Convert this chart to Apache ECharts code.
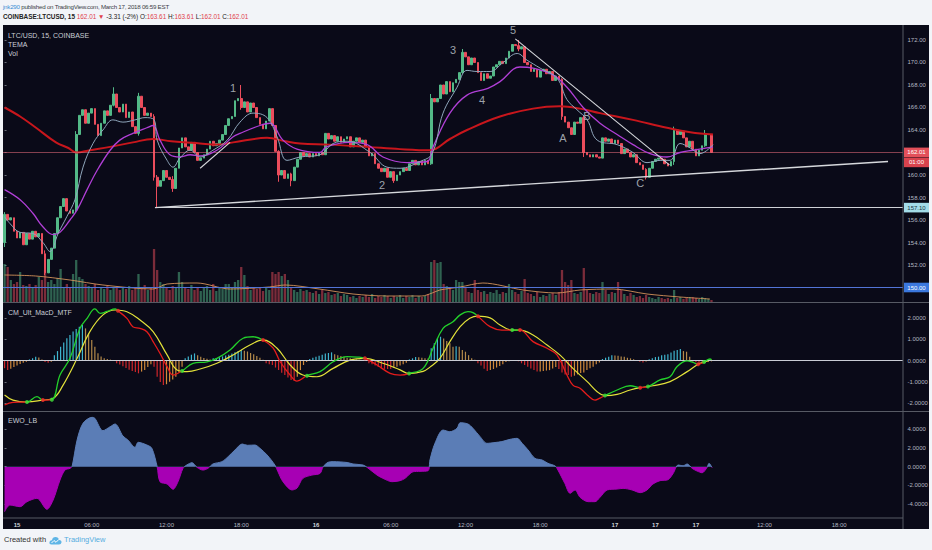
<!DOCTYPE html>
<html><head><meta charset="utf-8">
<script src="https://cdn.jsdelivr.net/npm/echarts@6/dist/echarts.min.js"></script>
<style>
html,body{margin:0;padding:0;background:#f2f4f8;width:932px;height:550px;overflow:hidden;font-family:'Liberation Sans',Arial,sans-serif;}
#h1{position:absolute;left:3px;top:2px;font-size:6.2px;letter-spacing:-0.25px;line-height:9px;color:#3c3f47;white-space:nowrap;}
#h2{position:absolute;left:3px;top:12px;font-size:6.4px;line-height:9px;color:#222;white-space:nowrap;}
#h2 .r{color:#e0414c;}
#dark{position:absolute;left:3px;top:25px;width:926px;height:504px;background:#0a0a18;}
#chart{position:absolute;left:0;top:0;width:932px;height:550px;}
#foot{position:absolute;left:4px;top:535px;font-size:7.5px;line-height:10px;color:#333;white-space:nowrap;}
#foot .tv{color:#55ade0;}
#foot svg{vertical-align:middle;margin:0 2px 0 3px;}
</style></head><body>
<div id="h1"><span style="color:#3b8ed6">jnk290</span> published on TradingView.com, March 17, 2018 06:59 EST</div>
<div id="h2"><b>COINBASE:LTCUSD, 15</b> <span class="r">162.01</span> <span class="r">&#9660;</span> -3.31 (-2%) O:<span class="r">163.61</span> H:<span class="r">163.61</span> L:<span class="r">162.01</span> C:<span class="r">162.01</span></div>
<div id="dark"></div>
<div id="chart"></div>
<div id="foot">Created with<svg width="13" height="9" viewBox="0 0 13 9"><path d="M2.5 8.5 Q0 8.5 0.5 6 Q1 4 3 4.3 Q3.5 1 6.5 1 Q9.5 1 10 4 Q12.8 4.2 12.5 6.5 Q12.2 8.5 10 8.5 Z" fill="#5fb5e6"/><path d="M2.5 7 L5 4.5 L7 6.3 L10 3.3" stroke="#fff" stroke-width="1" fill="none"/></svg><span class="tv">TradingView</span></div>
<script>
// ---------- data ----------
const N = 289;               // bar slots across the time axis (data + empty future)
const firstOpen = 154.0;
const closes = [
156.5,156.0,156.2,155.0,154.4,154.9,153.8,154.8,154.3,155.0,
154.5,154.8,153.0,151.3,152.5,153.5,154.8,156.2,157.2,157.9,
156.8,156.6,156.9,163.6,165.3,165.8,164.6,165.5,165.9,164.5,
163.5,164.6,165.7,165.3,166.2,167.2,166.0,165.6,166.3,165.1,
165.6,164.3,163.7,167.0,166.0,165.3,165.5,165.2,159.8,159.0,
159.5,160.4,159.8,159.6,158.8,160.6,162.4,163.3,162.5,162.2,
162.9,162.0,161.3,161.5,161.8,162.3,163.0,162.6,162.8,163.1,
163.6,164.4,165.0,165.2,166.6,166.8,166.0,166.5,165.6,166.4,
166.0,165.1,164.5,164.1,164.8,165.9,164.4,162.1,160.0,160.4,
159.7,160.1,159.5,160.7,161.4,162.0,161.7,161.9,161.6,161.9,
161.7,162.0,161.8,163.7,163.2,163.5,163.0,163.4,162.9,163.2,
163.4,162.5,163.0,163.3,162.9,163.1,162.5,161.7,161.9,161.0,
160.6,160.3,160.6,159.8,160.3,159.5,160.0,160.3,160.6,160.4,
161.0,161.3,160.9,161.2,160.9,161.3,161.0,166.8,166.5,166.8,
168.0,167.2,168.3,167.4,168.2,168.5,169.1,170.9,170.5,169.8,
170.4,170.0,169.1,168.4,169.0,168.6,168.8,169.6,169.8,170.1,
169.9,170.4,171.0,171.6,171.5,171.2,171.4,170.0,169.8,169.2,
169.4,168.7,169.3,169.4,169.0,169.2,168.4,168.8,168.5,165.2,
164.7,164.2,163.6,164.7,164.6,165.1,162.0,161.8,161.6,161.8,
161.6,161.5,163.3,163.0,163.2,162.8,163.1,162.8,161.9,162.3,
162.0,161.6,161.8,161.1,160.9,160.5,159.8,160.6,161.2,161.4,
161.5,161.4,161.0,160.8,161.2,164.0,163.6,163.9,163.3,162.5,
163.0,162.3,161.7,162.2,162.6,163.6,163.61,162.01];
// notable wicks: index -> [high, low]
const wicks = {0:[156.7,153.6],13:[153.3,151.1],23:[163.9,156.7],35:[167.8,166.1],43:[167.3,163.5],
  48:[165.4,159.5],49:[160.0,157.1],54:[159.9,158.5],76:[168.0,165.8],88:[162.2,159.4],92:[160.2,159.0],
  125:[160.3,159.3],137:[167.2,160.9],147:[171.2,169.0],165:[172.0,171.0],179:[168.6,164.9],
  186:[165.3,161.6],206:[160.6,159.6],215:[164.3,160.9],225:[164.0,162.5]};
const volumes = [
38,35,22,18,20,30,17,16,18,15, 17,25,22,32,20,22,18,24,33,15,
18,14,28,42,25,23,18,16,14,18, 12,15,13,16,12,14,15,12,14,13,
16,12,14,28,15,17,12,14,53,32, 20,18,15,12,16,14,30,20,15,13,
17,12,15,11,14,16,12,18,11,14, 13,18,18,15,20,22,35,27,16,12,
14,13,15,11,14,12,30,28,30,26, 28,22,15,12,10,13,11,12,10,9,
11,8,12,9,10,7,8,9,6,8, 7,5,6,4,6,5,7,5,8,4,
6,5,7,6,4,6,5,7,4,6, 5,7,4,6,5,6,8,40,42,39,
40,18,16,14,12,22,20,20,14,10, 9,22,12,10,11,8,10,9,12,8,
10,9,18,12,10,8,11,23,9,8, 6,10,5,7,6,8,9,7,10,32,
20,17,22,9,8,10,34,12,9,8, 10,9,20,12,8,10,9,20,12,8,
6,9,7,5,6,4,7,5,4,3, 5,4,3,4,3,12,4,5,3,4,
5,5,4,3,5,4,3,2];
const volMA = [[0,27],[10,26],[21,22],[31.6,17],[47.7,13],[52.2,18],[61.8,19],[72.4,13],[85,15],[90.1,17],
  [101,13],[111.9,8],[122.8,6],[134,6],[137.3,9],[139.8,12],[146.3,15],[153.6,19],[166.5,12],[177.4,9],
  [184.8,12],[195.4,13],[206.3,8],[216.9,5],[226.5,3]];
const maLong = [[0,166.0],[5,165.2],[10.1,164.2],[16.5,162.9],[20.5,162.4],[23.1,162.0],[27.4,162.2],[33.9,162.5],
  [41.2,162.9],[47.7,163.2],[53.5,163.0],[62.8,162.8],[68,162.7],[73.4,162.9],[84.3,163.3],[90.1,163.0],
  [94.9,162.8],[104.5,162.7],[116.4,162.5],[127.0,162.3],[136.6,162.2],[143.0,163.2],[148.5,164.0],
  [159.1,165.2],[169.7,165.9],[178.3,166.1],[184.8,165.9],[191.2,165.5],[201.8,164.9],[212.7,164.2],
  [220.2,163.8],[227.5,163.6]];
const temaSlow = [[0,158.7],[5.0,157.8],[9.1,156.6],[12.3,155.4],[15.6,154.7],[17.8,154.9],[21.0,156.0],
  [23.3,156.9],[26.5,158.7],[29.7,160.4],[33.9,162.2],[37.0,163.1],[41.2,163.7],[45.7,164.2],[47.7,164.4],
  [49.9,163.1],[53.1,161.8],[56.3,161.6],[59.6,161.8],[62.8,161.7],[68.2,162.2],[73.4,163.4],[75.6,163.7],
  [82.0,164.4],[85.2,164.6],[89.4,163.1],[93.9,162.3],[101.3,162.0],[103.3,162.5],[110.9,162.9],[116.4,162.7],
  [121.5,161.6],[129.2,161.1],[135.7,161.2],[137.6,162.5],[143.0,165.5],[148.5,167.1],[155.2,167.7],
  [159.1,168.3],[165.5,169.6],[169.7,169.5],[176.1,168.9],[180.6,167.8],[185.8,166.0],[191.2,164.6],
  [196.7,163.6],[201.8,162.7],[207.3,161.9],[212.7,161.6],[216.9,162.0],[221.1,162.2],[227.5,162.5]];
const temaFast = [[0,156.3],[1.7,155.7],[5.0,154.9],[9.1,154.8],[12.3,154.0],[14.6,153.2],[17.2,154.8],
  [20.0,156.3],[22.6,157.8],[25.2,160.7],[28.4,162.8],[31.6,164.0],[34.8,164.9],[38.0,164.7],[41.9,164.9],
  [45.1,165.1],[48.0,164.9],[49.0,163.1],[52.2,161.3],[54.1,160.7],[56.3,161.5],[59.6,162.2],[62.8,161.6],
  [66.9,162.2],[71.5,163.1],[75.6,164.7],[79.8,165.5],[84.3,165.1],[87.5,163.4],[90.7,161.3],[94.9,161.6],
  [101.3,161.8],[105.5,162.8],[110.0,163.0],[117.4,162.0],[122.8,160.7],[127.0,160.6],[133.4,161.2],
  [137.3,161.9],[140.8,165.5],[145.3,167.8],[148.5,169.3],[151.7,169.2],[155.9,169.2],[160.1,170.0],
  [164.6,170.8],[167.8,170.2],[172.0,169.5],[177.4,168.6],[180.6,166.7],[183.8,165.8],[187.1,164.9],
  [190.3,163.1],[196.7,162.7],[201.8,162.0],[206.3,161.1],[210.5,161.3],[213.7,161.3],[216.9,162.8],
  [220.2,162.4],[223.3,161.9],[227.5,162.7]];
const supportLine = [[48.3,157.1],[283.7,161.2]];
const downLine = [[164.0,172.1],[213.5,160.9]];
const smallLine = [[62.8,160.6],[72.4,162.9]];
const waveLabels = [['1',73.4,167.7],['2',121.2,159.1],['3',144.0,171.1],['4',153.3,166.7],
  ['5',163.3,172.9],['A',179.3,163.3],['B',187.0,165.2],['C',204.1,159.3]];
const lastPrice = 162.01, hLevel = 157.10, blueLevel = 150.00;

const macdHist = [
-0.35,-0.44,-0.38,-0.30,-0.22,-0.15,-0.10,-0.05,0.06,0.12,
0.19,0.15,0.06,-0.06,-0.10,-0.05,0.26,0.45,0.65,0.85,
1.05,1.20,1.36,1.48,1.59,1.67,1.51,1.28,0.97,0.65,
0.35,0.20,0.12,0.08,0.05,0.03,-0.12,-0.18,-0.26,-0.34,
-0.42,-0.48,-0.53,-0.59,-0.51,-0.44,-0.30,-0.16,-0.28,-0.75,
-1.00,-1.14,-1.10,-0.98,-0.88,-0.75,-0.55,-0.28,0.12,0.20,
0.28,0.34,0.25,0.18,0.13,0.09,0.06,0.11,0.13,0.16,
0.20,0.24,0.28,0.34,0.40,0.45,0.50,0.47,0.43,0.36,
0.30,0.22,0.14,0.05,-0.12,-0.16,-0.20,-0.32,-0.44,-0.56,
-0.67,-0.78,-0.90,-0.95,-0.75,-0.44,-0.20,-0.06,0.08,0.14,
0.18,0.23,0.28,0.34,0.36,0.39,0.30,0.26,0.22,0.18,
0.14,0.11,0.08,0.06,0.04,0.03,0.02,-0.12,-0.17,-0.23,
-0.29,-0.36,-0.38,-0.39,-0.39,-0.33,-0.28,-0.23,-0.16,-0.10,
0.06,0.11,0.17,0.16,0.14,0.12,0.10,0.58,0.81,1.04,
1.12,1.04,0.92,0.81,0.65,0.68,0.65,0.50,0.42,0.26,
0.11,0.04,-0.12,-0.22,-0.38,-0.48,-0.44,-0.39,-0.32,-0.25,
-0.17,-0.06,-0.02,0.02,0.01,-0.02,-0.12,-0.20,-0.28,-0.36,
-0.44,-0.51,-0.50,-0.48,-0.46,-0.44,-0.36,-0.30,-0.39,-0.55,
-0.64,-0.67,-0.75,-0.70,-0.64,-0.58,-0.55,-0.44,-0.35,-0.28,
-0.17,-0.08,0.08,0.14,0.19,0.26,0.24,0.23,0.20,0.19,
0.14,0.11,0.07,0.03,-0.05,-0.08,-0.04,0.07,0.11,0.17,
0.19,0.26,0.28,0.30,0.38,0.46,0.50,0.55,0.45,0.42,
0.19,-0.05,-0.07,-0.09,-0.12,-0.10,-0.05,-0.03];
const macdLine = [[0,-2.07],[2.7,-1.95],[7.2,-1.93],[10.4,-1.68],[12.3,-1.84],[15.2,-1.82],[17.8,-0.67],[21.0,0.11],
  [24.2,1.51],[26.5,1.98],[29.0,2.42],[30.7,2.21],[32.9,2.30],[35.5,2.42],[36.4,2.33],[39.3,1.98],[41.2,1.59],
  [43.5,1.51],[45.7,1.35],[47.7,0.89],[49.9,0.35],[52.2,-0.28],[54.1,-0.67],[57.0,-0.48],[60.5,-0.12],
  [65.0,-0.05],[68.2,0.11],[72.4,0.50],[76.6,1.05],[79.8,1.12],[83.0,0.97],[86.2,0.60],[88.5,-0.05],
  [91.7,-0.67],[93.9,-0.95],[97.1,-0.70],[101.3,-0.51],[105.5,-0.05],[110.0,0.19],[113.2,0.17],[115.7,0.11],
  [119.6,-0.20],[123.8,-0.59],[127.0,-0.67],[129.9,-0.60],[134.4,-0.36],[137.6,0.58],[140.8,1.51],[144.0,1.82],
  [146.3,2.14],[148.8,2.29],[150.4,2.25],[152.0,2.08],[155.9,1.59],[159.7,1.43],[163.0,1.43],[165.5,1.43],
  [169.7,0.89],[174.2,0.58],[177.4,0.27],[180.6,-0.67],[182.5,-1.14],[184.8,-1.29],[187.1,-1.60],[189.6,-1.84],
  [191.2,-1.75],[192.8,-1.63],[196.7,-1.37],[200.9,-1.17],[204.1,-1.26],[206.6,-1.21],[210.5,-0.90],
  [213.7,-0.75],[215.9,-0.28],[219.2,-0.01],[221.1,-0.08],[222.7,-0.17],[224.6,-0.06],[226.5,0.08],[227,0.05]];
const macdSignal = [[0,-1.60],[2.7,-1.84],[7.2,-1.93],[12.3,-1.84],[15.6,-1.76],[18.8,-1.14],[23.3,0.11],[27.4,1.36],
  [31.6,2.14],[35.5,2.37],[39.3,2.29],[43.5,1.90],[47.7,1.36],[52.2,0.27],[55.4,-0.43],[58.6,-0.51],[62.8,-0.39],
  [68.2,-0.12],[73.4,0.27],[78.8,0.73],[83.0,0.97],[87.5,0.58],[91.7,-0.20],[95.8,-0.67],[100.3,-0.75],
  [105.5,-0.36],[110.9,0.03],[115.7,0.11],[121.5,-0.12],[127.0,-0.43],[129.9,-0.60],[134.4,-0.50],[136.6,-0.30],
  [139.8,0.11],[143.0,0.89],[146.3,1.59],[149.4,1.98],[152.0,2.08],[155.9,2.00],[159.1,1.67],[163.0,1.43],
  [165.5,1.43],[169.7,1.20],[174.2,0.73],[178.3,0.27],[182.5,-0.36],[187.1,-0.98],[190.3,-1.45],[192.8,-1.63],
  [196.7,-1.57],[200.9,-1.37],[204.1,-1.26],[208.2,-1.17],[213.7,-0.98],[219.2,-0.51],[222.7,-0.17],
  [224.6,-0.06],[226.5,0.03],[227,0.04]];
// crossings: [index, value, direction (1 = MACD crosses above signal)]
const macdCross = [[7.2,-1.93,1],[12.3,-1.84,-1],[15.2,-1.82,1],[36.4,2.33,-1],[57.0,-0.48,1],[83.0,0.97,-1],
  [97.1,-0.70,1],[115.7,0.11,-1],[129.9,-0.60,1],[152.0,2.08,-1],[163.0,1.43,1],[165.5,1.43,-1],
  [192.8,-1.63,1],[204.1,-1.26,-1],[206.6,-1.21,1],[222.7,-0.17,-1],[224.6,-0.06,1]];
const ewo = [[0,-4.84],[1.7,-4.12],[5.0,-4.30],[7.2,-3.76],[10.4,-3.40],[13.6,-4.58],[15.6,-3.58],[17.8,-1.43],
  [19.4,-0.35],[21.0,-0.18],[21.7,0.05],[23.3,2.87],[25.2,4.67],[28.1,5.31],[29.0,5.20],[31.6,3.87],[33.9,4.30],
  [35.5,4.59],[38.0,3.30],[39.6,2.87],[41.9,2.09],[42.9,2.62],[45.7,2.33],[47.3,1.98],[49.0,0.0],[49.9,-1.61],
  [52.2,-1.86],[54.1,-2.43],[55.7,-1.61],[57.3,-0.18],[58.6,0.20],[60.2,0.43],[61.8,-0.07],[63.7,-0.36],
  [65.3,-0.18],[66.9,0.29],[69.8,0.54],[71.8,1.08],[74.0,1.80],[76.3,2.44],[78.0,2.30],[80.4,2.33],[82.0,1.98],
  [84.3,1.26],[86.8,0.18],[87.8,-0.54],[89.4,-1.61],[92.3,-2.50],[93.9,-2.30],[95.8,-1.25],[98.7,-0.90],
  [101.3,-0.72],[102.3,0.0],[103.9,0.47],[105.5,0.54],[110.0,0.45],[111.9,0.29],[115.1,0.18],[116.4,-0.07],
  [119.6,-0.90],[121.5,-1.25],[124.4,-1.61],[127.0,-1.50],[128.6,-1.25],[131.2,-0.54],[133.4,-0.50],
  [136.0,-0.43],[136.6,0.72],[138.2,2.51],[140.8,3.94],[143.0,3.76],[145.3,4.13],[146.3,4.73],[148.8,4.59],
  [150.4,4.13],[152.7,3.23],[154.9,2.51],[157.5,2.60],[159.7,2.70],[162.3,2.94],[164.6,3.05],[166.2,2.51],
  [168.1,1.80],[170.3,0.90],[172.6,0.72],[174.5,0.36],[176.8,0.07],[177.7,-0.36],[179.9,-1.79],[181.6,-2.86],
  [183.2,-2.50],[184.8,-3.29],[187.4,-3.76],[189.6,-3.76],[191.2,-3.29],[193.5,-2.50],[196.7,-2.40],
  [198.6,-2.33],[201.5,-2.50],[204.1,-2.79],[206.3,-2.50],[208.2,-1.86],[210.5,-1.50],[213.0,-1.40],
  [214.7,-0.72],[216.3,0.18],[217.9,0.10],[219.2,0.29],[220.8,-0.18],[222.4,-0.47],[224.0,-0.65],
  [225.6,-0.07],[226.2,0.36],[227.2,-0.10]];
const priceTicks = [150,152,154,156,158,160,162,164,166,168,170,172];
const macdTicks = [-2,-1,0,1,2];
const ewoTicks = [-4,-2,0,2,4];
const timeTickIdx = [4,28,52,76,100,124,148,172,196,209,222,244,268];
const timeTickText = ['15','06:00','12:00','18:00','16','06:00','12:00','18:00','17','17','17','12:00','18:00'];

// ---------- build ----------
const UP = '#53b987', DN = '#eb4d5c';
const opens = closes.map((c, i) => i === 0 ? firstOpen : closes[i - 1]);
const ohlc = closes.map((c, i) => {
  const o = opens[i];
  const w = wicks[i];
  const hi = w ? Math.max(w[0], o, c) : Math.max(o, c);
  const lo = w ? Math.min(w[1], o, c) : Math.min(o, c);
  return [o, c, lo, hi];
});
const cats = Array.from({length: N}, (_, i) => String(i));
const FONT = 'Liberation Sans';
const axisTxt = '#b4b8c2';

function catAxis(g) { return {type: 'category', gridIndex: g, data: cats, boundaryGap: true, show: false}; }
function valAxis(g) { return {type: 'value', gridIndex: g, min: -0.5, max: N - 0.5, show: false, splitLine: {show: false}}; }
function yAx(g, mn, mx, ticks, dec) {
  return {type: 'value', gridIndex: g, position: 'right', min: mn, max: mx, scale: true,
    axisLine: {show: false}, splitLine: {show: false},
    axisTick: {show: true, customValues: ticks, length: 2, lineStyle: {color: '#6a6e78'}},
    axisLabel: {show: true, customValues: ticks, margin: 4.5, fontSize: 6, fontFamily: FONT, color: axisTxt,
      formatter: v => v.toFixed(dec)}};
}

const xTime = valAxis(3);
xTime.show = true;
xTime.axisLine = {show: false};
xTime.axisTick = {show: false};
xTime.axisLabel = {show: true, customValues: timeTickIdx, margin: 3.5, fontSize: 6, fontFamily: FONT, color: axisTxt,
  formatter: v => { const k = timeTickIdx.indexOf(Math.round(v)); const t = k >= 0 ? timeTickText[k] : '';
    return t.indexOf(':') < 0 ? '{b|' + t + '}' : t; },
  rich: {b: {fontWeight: 'bold', fontSize: 6, fontFamily: FONT, color: '#d0d3da'}}};

const pieces = [];
let prevB = -10, upState = false;
macdCross.forEach(c => { pieces.push({gte: prevB, lt: c[0], color: upState ? '#22d12a' : '#e41b1b'}); prevB = c[0]; upState = c[2] > 0; });
pieces.push({gte: prevB, lte: 10000, color: upState ? '#22d12a' : '#e41b1b'});

function histColor(p) {
  const i = p.dataIndex, v = macdHist[i], pv = i > 0 ? macdHist[i - 1] : v;
  if (v >= 0) return v >= pv ? '#3fb6cf' : '#b48a4a';
  return v <= pv ? '#d0262a' : '#d0893a';
}

const lineCommon = {type: 'line', showSymbol: false, symbol: 'none', silent: true, animation: false};

const option = {
  animation: false,
  grid: [
    {left: 3, width: 900, top: 25, height: 277.5},
    {left: 3, width: 900, top: 240, height: 62},
    {left: 3, width: 900, top: 302.5, height: 109},
    {left: 3, width: 900, top: 411.5, height: 106.5}
  ],
  xAxis: [catAxis(0), valAxis(0), catAxis(1), valAxis(1), catAxis(2), valAxis(2), xTime],
  yAxis: [
    yAx(0, 148.667, 173.333, priceTicks, 2),
    {type: 'value', gridIndex: 1, min: 0, max: 62, show: false, splitLine: {show: false}},
    yAx(2, -2.374, 2.720, macdTicks, 4),
    yAx(3, -5.516, 5.935, ewoTicks, 4)
  ],
  visualMap: [
    {type: 'piecewise', show: false, seriesIndex: 11, dimension: 0, pieces: pieces},
    {type: 'piecewise', show: false, seriesIndex: 13, dimension: 1,
      pieces: [{gte: -50, lt: 0, color: '#a700b4'}, {gte: 0, lte: 50, color: '#5b7db6'}]}
  ],
  series: [
    {type: 'bar', xAxisIndex: 2, yAxisIndex: 1, data: volumes, barWidth: 2.3, z: 1, silent: true,
      itemStyle: {color: p => closes[p.dataIndex] >= opens[p.dataIndex] ? 'rgba(83,185,135,0.5)' : 'rgba(235,77,92,0.5)'}},
    Object.assign({}, lineCommon, {xAxisIndex: 3, yAxisIndex: 1, data: volMA, smooth: 0.3, z: 2,
      lineStyle: {color: '#d4935a', width: 0.9}}),
    {type: 'candlestick', xAxisIndex: 0, yAxisIndex: 0, data: ohlc, barWidth: 2.2, z: 3, silent: true,
      itemStyle: {color: UP, color0: DN, borderColor: UP, borderColor0: DN, borderWidth: 1}},
    Object.assign({}, lineCommon, {xAxisIndex: 1, yAxisIndex: 0, data: maLong, smooth: 0.4, z: 4,
      lineStyle: {color: '#c8161c', width: 2},
      markLine: {symbol: 'none', silent: true, label: {show: false}, animation: false,
        data: [
          {yAxis: lastPrice, lineStyle: {color: 'rgba(235,110,125,0.55)', width: 1, type: 'solid'}},
          {yAxis: blueLevel, lineStyle: {color: '#5274d6', width: 1, type: 'solid'}},
          [{coord: [supportLine[0][0], hLevel], lineStyle: {color: '#cfd1d6', width: 1.2, type: 'solid'}},
           {coord: [N - 0.5, hLevel]}]
        ]}}),
    Object.assign({}, lineCommon, {xAxisIndex: 1, yAxisIndex: 0, data: temaSlow, smooth: 0.4, z: 5,
      lineStyle: {color: '#b03fd6', width: 1.3}}),
    Object.assign({}, lineCommon, {xAxisIndex: 1, yAxisIndex: 0, data: temaFast, smooth: 0.4, z: 6,
      lineStyle: {color: '#8fa6bb', width: 1}}),
    Object.assign({}, lineCommon, {xAxisIndex: 1, yAxisIndex: 0, data: supportLine, z: 7,
      lineStyle: {color: '#d6d8dc', width: 1.4}}),
    Object.assign({}, lineCommon, {xAxisIndex: 1, yAxisIndex: 0, data: downLine, z: 7,
      lineStyle: {color: '#d6d8dc', width: 1.1}}),
    Object.assign({}, lineCommon, {xAxisIndex: 1, yAxisIndex: 0, data: smallLine, z: 7,
      lineStyle: {color: '#d6d8dc', width: 1.1}}),
    {type: 'bar', xAxisIndex: 4, yAxisIndex: 2, data: macdHist, barWidth: 1.2, z: 2, silent: true,
      itemStyle: {color: histColor},
      markLine: {symbol: 'none', silent: true, label: {show: false}, animation: false,
        data: [{yAxis: 0, lineStyle: {color: '#c9ccd4', width: 1, type: 'solid'}}]}},
    Object.assign({}, lineCommon, {xAxisIndex: 5, yAxisIndex: 2, data: macdSignal, smooth: 0.4, z: 4,
      lineStyle: {color: '#e3e23a', width: 1.2}}),
    Object.assign({}, lineCommon, {xAxisIndex: 5, yAxisIndex: 2, data: macdLine, smooth: 0.4, z: 5,
      lineStyle: {width: 1.3}}),
    {type: 'scatter', xAxisIndex: 5, yAxisIndex: 2, symbolSize: 4, z: 6, silent: true,
      data: macdCross.map(c => ({value: [c[0], c[1]], itemStyle: {color: c[2] > 0 ? '#3be23b' : '#f02a2a'}}))},
    Object.assign({}, lineCommon, {xAxisIndex: 6, yAxisIndex: 3, data: ewo, smooth: 0.3, z: 3,
      lineStyle: {width: 1}, areaStyle: {opacity: 1}})
  ]
};

const chart = echarts.init(document.getElementById('chart'), null, {renderer: 'svg', width: 932, height: 550});
chart.setOption(option);

// ---------- frame, titles, wave labels and axis tags ----------
const g = [];
const sep = '#575a64';
g.push({type: 'line', shape: {x1: 3, y1: 302.5, x2: 929, y2: 302.5}, style: {stroke: sep, lineWidth: 1}, z: 50});
g.push({type: 'line', shape: {x1: 3, y1: 411.5, x2: 929, y2: 411.5}, style: {stroke: sep, lineWidth: 1}, z: 50});
g.push({type: 'line', shape: {x1: 3, y1: 518, x2: 903, y2: 518}, style: {stroke: sep, lineWidth: 1}, z: 50});
g.push({type: 'line', shape: {x1: 903, y1: 25, x2: 903, y2: 529}, style: {stroke: sep, lineWidth: 1}, z: 50});
const titles = [['LTC/USD, 15, COINBASE', 35], ['TEMA', 44.5], ['Vol', 53], ['CM_Ult_MacD_MTF', 312.5], ['EWO_LB', 420.5]];
titles.forEach(t => g.push({type: 'text', x: 8, y: t[1], z: 60,
  style: {text: t[0], fill: '#c9cdd5', fontSize: 7, fontFamily: FONT, verticalAlign: 'middle'}}));
waveLabels.forEach(w => {
  const p = chart.convertToPixel({xAxisIndex: 1, yAxisIndex: 0}, [w[1], w[2]]);
  g.push({type: 'text', x: p[0], y: p[1], z: 65,
    style: {text: w[0], fill: '#9da2aa', fontSize: 11, fontFamily: FONT, align: 'center', verticalAlign: 'middle'}});
});
const tags = [[lastPrice, '162.01', '#e3505a', '#ffffff', 0], [lastPrice, '01:00', '#d8434d', '#ffffff', 10],
  [hLevel, '157.10', '#a3dce9', '#173844', 0], [blueLevel, '150.00', '#3b78de', '#ffffff', 0]];
tags.forEach(t => {
  const y = chart.convertToPixel({yAxisIndex: 0}, t[0]) + t[4];
  g.push({type: 'rect', shape: {x: 904, y: y - 4.8, width: 25, height: 9.6}, style: {fill: t[2]}, z: 70});
  g.push({type: 'text', x: 916.5, y: y, z: 71,
    style: {text: t[1], fill: t[3], fontSize: 6, fontFamily: FONT, align: 'center', verticalAlign: 'middle'}});
});
chart.setOption({graphic: g});
</script>
</body></html>
